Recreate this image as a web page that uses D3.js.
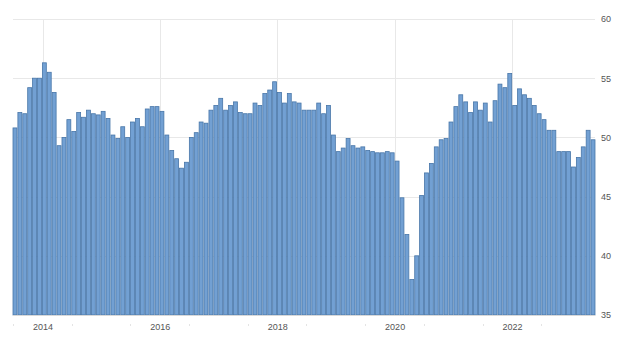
<!DOCTYPE html>
<html>
<head>
<meta charset="utf-8">
<script src="https://cdn.jsdelivr.net/npm/d3@7"></script>
<style>
	body { margin: 0; background: #fff; }
	svg { display: block; font-family: 'Liberation Sans', Arial, sans-serif; }
	.grid line { stroke: #e8e8e8; stroke-width: 1; }
	.axis text { fill: #555; font-size: 9px; }
	.axis path, .axis line { stroke: none; }
</style>
</head>
<body>
<div class="chart"></div>
<script>
// monthly values, Jul 2013 .. May 2023
const values = [
	50.8, 52.1, 52.0, 54.2, 55.0, 55.0,
	56.3, 55.5, 53.8, 49.3, 50.0, 51.5, 50.5, 52.1, 51.7, 52.3, 52.0, 51.9,
	52.2, 51.6, 50.2, 49.9, 50.9, 50.0, 51.3, 51.6, 50.9, 52.4, 52.6, 52.6,
	52.2, 50.2, 48.9, 48.2, 47.4, 47.9, 50.0, 50.4, 51.3, 51.2, 52.3, 52.7,
	53.3, 52.3, 52.7, 53.0, 52.1, 52.0, 52.0, 52.9, 52.7, 53.7, 54.0, 54.7,
	53.8, 52.9, 53.7, 53.0, 52.9, 52.3, 52.3, 52.3, 52.9, 52.0, 52.7, 50.2,
	48.8, 49.1, 49.9, 49.3, 49.1, 49.2, 48.9, 48.8, 48.7, 48.7, 48.8, 48.7,
	48.0, 44.9, 41.8, 38.0, 40.0, 45.1, 47.0, 47.8, 49.2, 49.8, 49.9, 51.3,
	52.6, 53.6, 53.0, 52.1, 53.0, 52.3, 52.9, 51.3, 53.1, 54.5, 54.2, 55.4,
	52.7, 54.1, 53.6, 53.3, 52.7, 52.0, 51.5, 50.6, 50.6, 48.8, 48.8, 48.8,
	47.5, 48.3, 49.2, 50.6, 49.8
]
const startYear = 2013
const startMonth = 6 // July
const dates = values.map((v, i) => new Date(startYear, startMonth + i, 1))
const yearTicks = [2014, 2016, 2018, 2020, 2022]
const yTicks = [35, 40, 45, 50, 55, 60]

const width = 622
const height = 338
const margin = { top: 19, right: 27, bottom: 23, left: 13 }
const innerW = width - margin.left - margin.right
const innerH = height - margin.top - margin.bottom

const svg = d3.select('.chart').append('svg')
	.attr('width', width)
	.attr('height', height)

const g = svg.append('g')
	.attr('transform', `translate(${margin.left},${margin.top})`)

const x = d3.scaleBand()
	.domain(d3.range(values.length))
	.range([0, innerW])
	.paddingInner(0.2)

const t = d3.scaleTime()
	.domain([dates[0], new Date(startYear, startMonth + values.length, 1)])
	.range([0, innerW])

const y = d3.scaleLinear()
	.domain([35, 60])
	.range([innerH, 0])

// grid
const grid = g.append('g').attr('class', 'grid')
grid.selectAll('.h')
	.data(yTicks.filter(d => d > 35))
	.enter().append('line')
		.attr('x1', 0)
		.attr('x2', innerW)
		.attr('y1', d => Math.round(y(d)) + 0.5)
		.attr('y2', d => Math.round(y(d)) + 0.5)

grid.selectAll('.v')
	.data(yearTicks)
	.enter().append('line')
		.attr('x1', d => Math.round(t(new Date(d, 0, 1))) + 0.5)
		.attr('x2', d => Math.round(t(new Date(d, 0, 1))) + 0.5)
		.attr('y1', 0)
		.attr('y2', innerH)

// bars
g.append('g')
	.selectAll('rect')
	.data(values)
	.enter().append('rect')
		.attr('x', (d, i) => x(i))
		.attr('y', d => y(d))
		.attr('width', x.bandwidth())
		.attr('height', d => innerH - y(d))
		.attr('fill', '#72a0d3')
		.attr('stroke', '#4876a8')
		.attr('stroke-width', 0.8)

// baseline
g.append('line')
	.attr('x1', 0)
	.attr('x2', innerW)
	.attr('y1', innerH + 0.5)
	.attr('y2', innerH + 0.5)
	.attr('stroke', '#d8d8d8')

// small month ticks under the axis
g.append('g')
	.selectAll('line')
	.data(dates.filter(d => d.getMonth() === 6))
	.enter().append('line')
		.attr('x1', d => Math.round(t(d)) + 0.5)
		.attr('x2', d => Math.round(t(d)) + 0.5)
		.attr('y1', innerH + 9)
		.attr('y2', innerH + 11)
		.attr('stroke', '#e4e4e4')

// axes
g.append('g')
	.attr('class', 'axis axis--y')
	.attr('transform', `translate(${innerW},0)`)
	.call(d3.axisRight(y).tickValues(yTicks).tickSize(0).tickPadding(6))

g.append('g')
	.attr('class', 'axis axis--x')
	.attr('transform', `translate(0,${innerH})`)
	.call(d3.axisBottom(t)
		.tickValues(yearTicks.map(d => new Date(d, 0, 1)))
		.tickFormat(d3.timeFormat('%Y'))
		.tickSize(0)
		.tickPadding(9))
</script>
</body>
</html>
